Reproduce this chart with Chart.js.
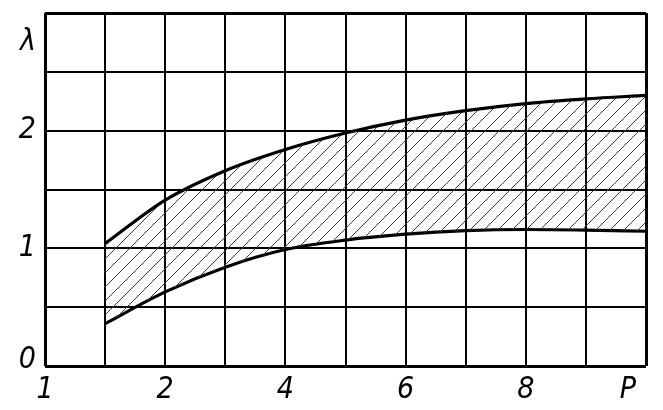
<!DOCTYPE html>
<html>
<head>
<meta charset="utf-8">
<script src="https://cdn.jsdelivr.net/npm/chart.js@4.4.1/dist/chart.umd.min.js"></script>
<style>
  html, body { margin: 0; padding: 0; background: #ffffff; }
  #wrap { width: 663px; height: 410px; }
</style>
</head>
<body>
<div id="wrap"><canvas id="c" width="663" height="410"></canvas></div>
<script>
// ---- data ----
const pValues     = [1, 2, 3, 4, 5, 6, 7, 8, 9, 10];
const upperLambda = [1.04, 1.41, 1.66, 1.84, 1.98, 2.09, 2.17, 2.23, 2.27, 2.30];
const lowerLambda = [0.36, 0.63, 0.84, 0.99, 1.07, 1.12, 1.15, 1.16, 1.155, 1.145];

// tick labels (grid cell index -> text)
const xTickValues = [0, 1, 2, 3, 4, 5, 6, 7, 8, 9, 9.7, 10];
const xTickLabels = {0: '1', 2: '2', 4: '4', 6: '6', 8: '8', 9.7: 'P'};
const yTickValues = [0, 0.05, 0.5, 1, 1.5, 2, 2.5, 2.75, 3];
const yTickLabels = {0.05: '0', 1: '1', 2: '2', 2.75: 'λ'};

// ---- hatch pattern ----
function makeHatch() {
  const s = 14;
  const pc = document.createElement('canvas');
  pc.width = s; pc.height = s;
  const g = pc.getContext('2d');
  g.strokeStyle = '#3a3a3a';
  g.lineWidth = 1;
  g.beginPath();
  g.moveTo(0, s); g.lineTo(s, 0);
  g.moveTo(-2, 2); g.lineTo(2, -2);
  g.moveTo(s - 2, s + 2); g.lineTo(s + 2, s - 2);
  g.stroke();
  return document.getElementById('c').getContext('2d').createPattern(pc, 'repeat');
}

const FONT = { family: '"DejaVu Sans Condensed", "DejaVu Sans", sans-serif', size: 30, style: 'italic', weight: 'normal' };

const upperPts = pValues.map((p, i) => ({ x: p, y: upperLambda[i] }));
const lowerPts = pValues.map((p, i) => ({ x: p, y: lowerLambda[i] }));

new Chart(document.getElementById('c'), {
  type: 'line',
  data: {
    datasets: [
      {
        data: upperPts,
        borderColor: '#000',
        borderWidth: 3.2,
        pointRadius: 0,
        cubicInterpolationMode: 'monotone',
        fill: '+1',
        backgroundColor: makeHatch()
      },
      {
        data: lowerPts,
        borderColor: '#000',
        borderWidth: 3.2,
        pointRadius: 0,
        cubicInterpolationMode: 'monotone',
        fill: false
      }
    ]
  },
  options: {
    responsive: false,
    animation: false,
    devicePixelRatio: 1,
    layout: { padding: { top: 13, right: 17, left: 0, bottom: 0 } },
    plugins: { legend: { display: false }, tooltip: { enabled: false } },
    scales: {
      x: {
        type: 'linear',
        min: 0, max: 10,
        afterBuildTicks: (scale) => { scale.ticks = xTickValues.map(v => ({ value: v })); },
        afterFit: (scale) => { scale.height = 44; scale.paddingLeft = 0; scale.paddingRight = 0; },
        border: { display: false },
        grid: {
          drawTicks: false,
          color: (ctx) => (ctx.tick && Number.isInteger(ctx.tick.value)) ? '#000' : 'rgba(0,0,0,0)',
          lineWidth: (ctx) => (ctx.tick && (ctx.tick.value === 0 || ctx.tick.value === 10)) ? 3 : 2
        },
        ticks: {
          autoSkip: false,
          maxRotation: 0,
          padding: 6,
          color: '#000',
          font: FONT,
          callback: (v) => (xTickLabels[v] !== undefined ? xTickLabels[v] : '')
        }
      },
      y: {
        type: 'linear',
        min: 0, max: 3,
        afterBuildTicks: (scale) => { scale.ticks = yTickValues.map(v => ({ value: v })); },
        afterFit: (scale) => { scale.width = 45; scale.paddingTop = 0; scale.paddingBottom = 0; },
        border: { display: false },
        grid: {
          drawTicks: false,
          color: (ctx) => (ctx.tick && (ctx.tick.value * 2) % 1 === 0) ? '#000' : 'rgba(0,0,0,0)',
          lineWidth: (ctx) => (ctx.tick && (ctx.tick.value === 0 || ctx.tick.value === 3)) ? 3 : 2
        },
        ticks: {
          autoSkip: false,
          padding: 9,
          color: '#000',
          font: FONT,
          callback: (v) => (yTickLabels[v] !== undefined ? yTickLabels[v] : '')
        }
      }
    }
  }
});
</script>
</body>
</html>
